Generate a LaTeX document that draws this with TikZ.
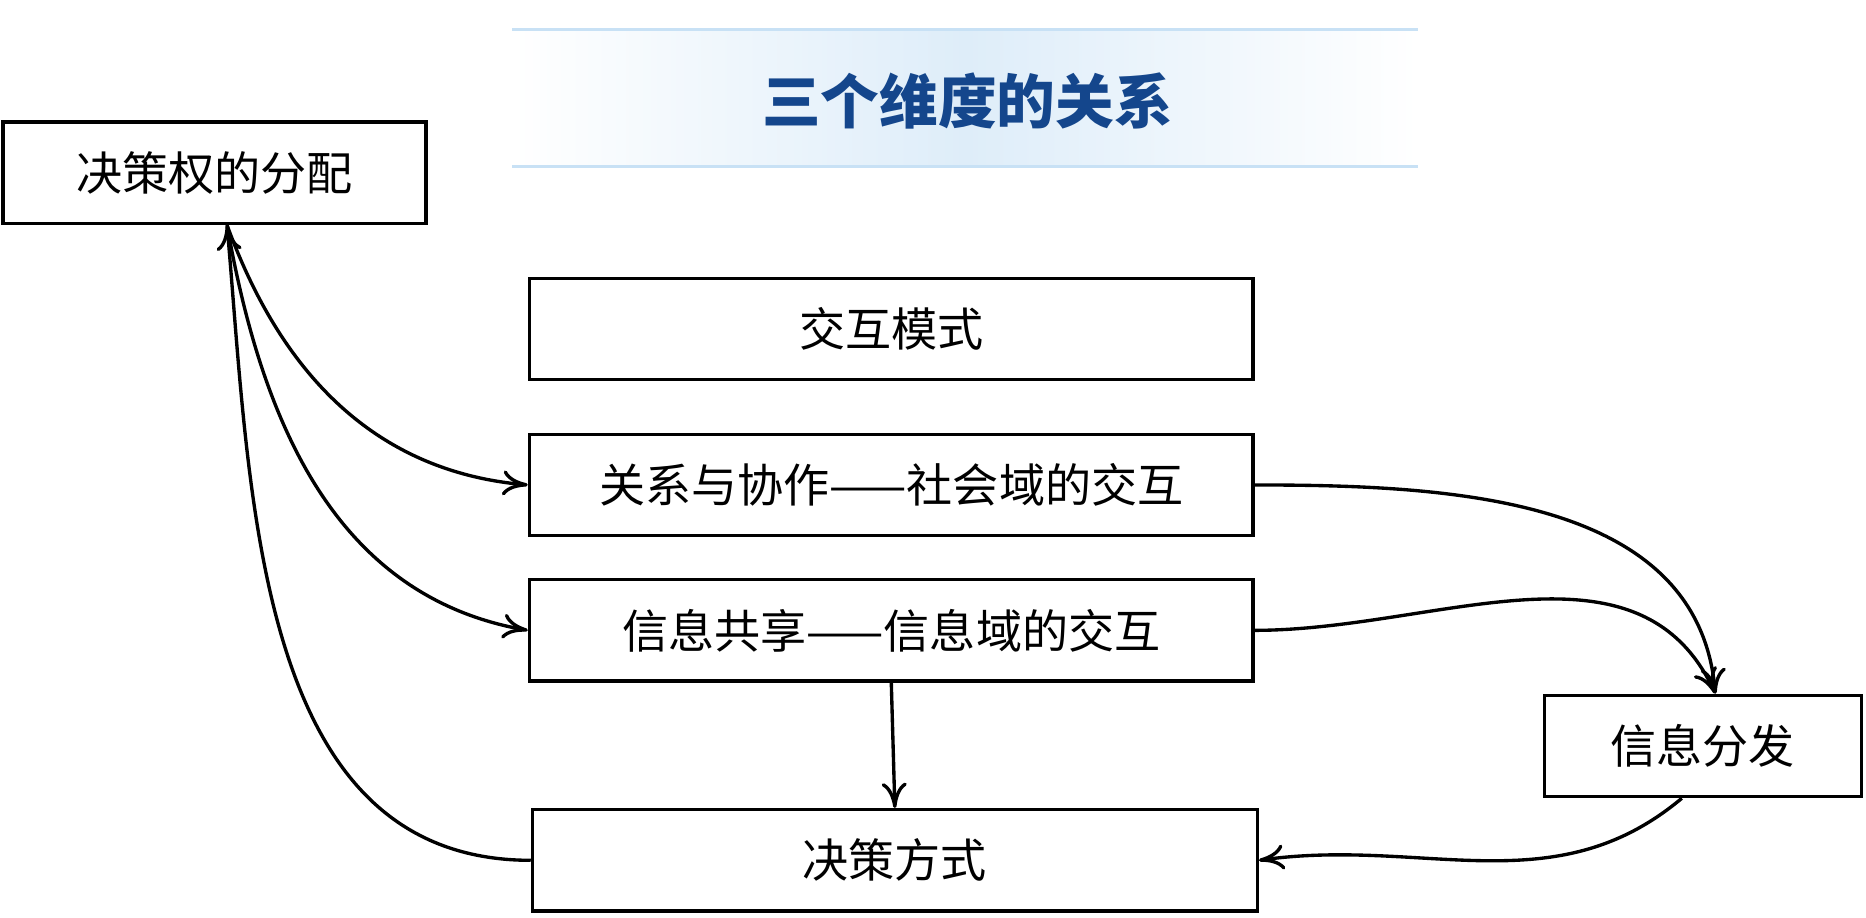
\documentclass[tikz,border=0pt]{standalone}
\usepackage{fontspec}
\setmainfont{Noto Sans CJK SC}
\usetikzlibrary{arrows.meta}
\definecolor{titleblue}{RGB}{20,70,140}
\definecolor{bandblue}{RGB}{200,225,245}
\tikzset{
  box/.style={draw,thick,minimum height=0.85cm,font=\fontsize{11}{13}\selectfont},
  link/.style={thick,-{To[length=6pt,width=6pt]}}
}
\begin{document}
\begin{tikzpicture}[x=0.01cm,y=-0.01cm]
\useasboundingbox (0,0) rectangle (1566,770);
% title band
\shade[left color=white,right color=white,middle color=bandblue!60] (430,25) rectangle (1190,140);
\draw[bandblue,thick] (430,25) -- (1190,25);
\draw[bandblue,thick] (430,140) -- (1190,140);
\node (title) at (812,85) {\fontsize{14}{16}\selectfont\bfseries\color{titleblue}三个维度的关系};

\node[box,minimum width=3.55cm] (alloc) at (180,145) {决策权的分配};
\node[box,minimum width=6.07cm] (mode) at (748,276) {交互模式};
\node[box,minimum width=6.07cm] (social) at (748,407) {关系与协作——社会域的交互};
\node[box,minimum width=6.07cm] (info) at (748,529) {信息共享——信息域的交互};
\node[box,minimum width=6.08cm] (decide) at (751,722) {决策方式};
\node[box,minimum width=2.66cm] (dist) at (1429,626) {信息分发};

\draw[link] ([xshift=3]alloc.south) to[out=-70,in=175] (social.west);
\draw[link] ([xshift=3]alloc.south) to[out=-80,in=170] (info.west);
\draw[link] (decide.west) to[out=180,in=-85] ([xshift=3]alloc.south);
\draw[link] (social.east) to[out=0,in=95] ([xshift=3]dist.north);
\draw[link] (info.east) to[out=0,in=115] ([xshift=3]dist.north);
\draw[link] ([xshift=-5]dist.south) to[out=-140,in=8] (decide.east);
\draw[link] (info.south) -- (decide.north);
\end{tikzpicture}
\end{document}
